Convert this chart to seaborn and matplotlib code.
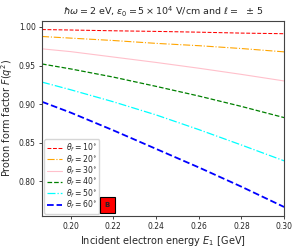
import numpy as np
import pandas as pd
import matplotlib
matplotlib.use("Agg")
import matplotlib.pyplot as plt
import seaborn as sns

# Incident electron energy samples [GeV]
energy = [0.1866, 0.20, 0.22, 0.24, 0.26, 0.28, 0.30]

# Proton form factor for each scattering angle
ff_10 = [0.9966, 0.9960, 0.9950, 0.9942, 0.9932, 0.9920, 0.9912]
ff_20 = [0.9876, 0.9855, 0.9824, 0.9787, 0.9757, 0.9720, 0.9677]
ff_30 = [0.9716, 0.9680, 0.9610, 0.9540, 0.9465, 0.9385, 0.9300]
ff_40 = [0.9520, 0.9456, 0.9350, 0.9230, 0.9105, 0.8970, 0.8825]
ff_50 = [0.9285, 0.9186, 0.9030, 0.8860, 0.8670, 0.8470, 0.8265]
ff_60 = [0.9030, 0.8890, 0.8660, 0.8420, 0.8180, 0.7930, 0.7667]

angles = [10, 20, 30, 40, 50, 60]
series = [ff_10, ff_20, ff_30, ff_40, ff_50, ff_60]
colors = ["red", "orange", "pink", "green", "cyan", "blue"]
styles = ["--", "-.", "-", "--", "-.", "--"]
widths = [0.75, 0.8, 0.8, 0.9, 0.9, 1.3]

sns.set_style("ticks")
plt.rcParams["font.family"] = ["DejaVu Sans"]

fig = plt.figure(figsize=(3, 2.5), dpi=100)
ax = fig.add_axes([0.14, 0.136, 0.807, 0.781])

for ang, vals, c, ls, lw in zip(angles, series, colors, styles, widths):
    df = pd.DataFrame({"E": energy, "F": vals})
    sns.lineplot(data=df, x="E", y="F", ax=ax, color=c, linestyle=ls,
                 linewidth=lw, label=rf"$\theta_f = {ang}^{{\circ}}$")

ax.set_xlim(0.1866, 0.30)
ax.set_ylim(0.755, 1.008)
ax.set_xticks([0.20, 0.22, 0.24, 0.26, 0.28, 0.30])
ax.set_yticks([0.80, 0.85, 0.90, 0.95, 1.00])
ax.tick_params(labelsize=5.5, length=2.5, width=0.6, pad=2)
for s in ax.spines.values():
    s.set_color("#444444")
    s.set_linewidth(0.8)

ax.set_xlabel(r"Incident electron energy $E_1$ [GeV]", fontsize=7, labelpad=2)
ax.set_ylabel(r"Proton form factor $F(q^2)$", fontsize=7, labelpad=3)
ax.set_title(r"$\hbar\omega = 2$ eV, $\varepsilon_0 = 5\times10^4$ V/cm and $\ell =$  $\pm$ 5",
             fontsize=6.8, pad=4)

ax.legend(loc="lower left", fontsize=5.6, handlelength=1.9, labelspacing=-0.15,
          borderpad=0.35, handletextpad=0.5, borderaxespad=0.3, frameon=True)

ax.text(0.27, 0.056, "B", transform=ax.transAxes, fontsize=5, fontweight="bold",
        ha="center", va="center", zorder=10,
        bbox=dict(boxstyle="square,pad=0.75", facecolor="red", edgecolor="black", linewidth=0.8))

fig.savefig("out.png", dpi=100)
